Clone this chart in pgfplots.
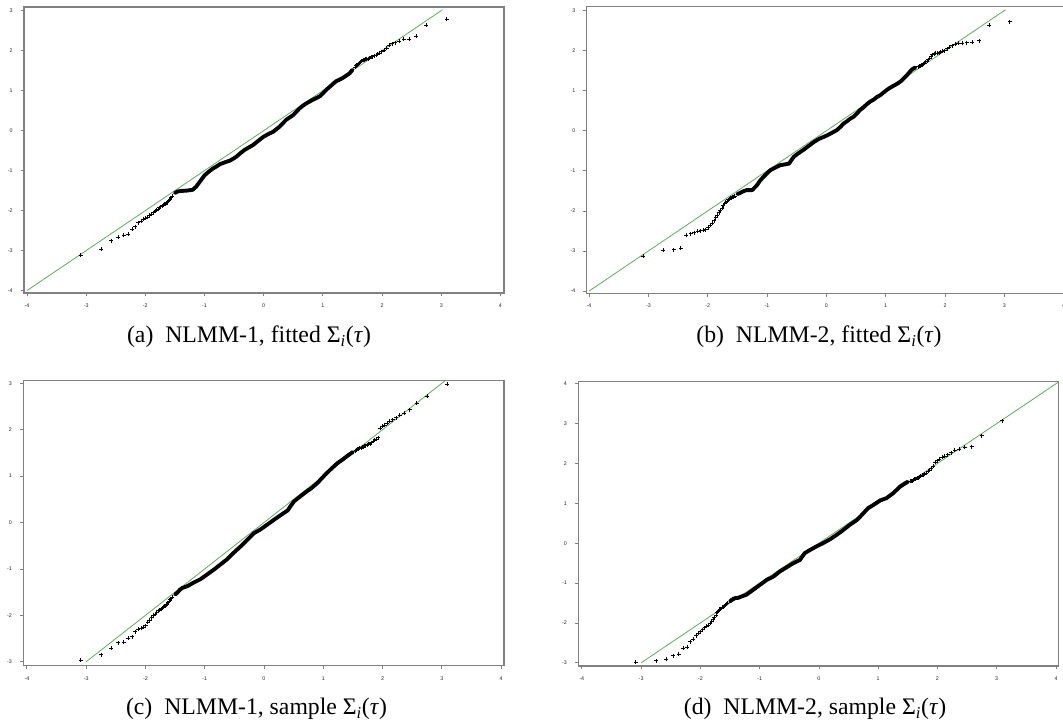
\documentclass[border=0pt]{standalone}
\usepackage{pgfplots}
\pgfplotsset{compat=1.18}
\usepackage{fontspec}
\setmainfont{Liberation Serif}
\newfontfamily\tickfont{Liberation Sans}
\definecolor{qqgreen}{RGB}{95,170,95}
\definecolor{axgray}{RGB}{128,128,128}
\pgfplotsset{
  qqax/.style={
    scale only axis, anchor=south west,
    axis line style={axgray, line width=0.8pt},
    tick style={axgray, line width=0.6pt},
    tick align=outside, major tick length=2.5pt,
    xtick pos=bottom, ytick pos=left,
    xtick={-4,-3,-2,-1,0,1,2,3,4},
    tick label style={font=\tickfont\fontsize{4}{4}\selectfont, text=black!85},
    /pgf/number format/assume math mode=true,
    xticklabel style={yshift=-2.0pt},
    yticklabel style={xshift=-2.5pt},
  },
  tails/.style={only marks, mark=+, mark size=1.5pt, mark options={line width=0.5pt, black}},
  mid/.style={black, line width=2.9pt, line cap=round, line join=round, no marks},
  ref/.style={qqgreen, line width=0.6pt, no marks},
}
\begin{document}
\begin{tikzpicture}
% (a)
\begin{axis}[qqax, at={(18pt,323.25pt)}, width=360pt, height=214.5pt,
  xmin=-4.05, xmax=4.06, ymin=-4.06, ymax=3.09, ytick={-4,-3,-2,-1,0,1,2,3}]
\addplot[ref] coordinates {(-4,-4) (3.02,3.02)};
\addplot[mid] coordinates {(-1.50,-1.56) (-1.45,-1.52) (-1.40,-1.51) (-1.30,-1.50) (-1.20,-1.48) (-1.14,-1.40) (-1.08,-1.28) (-1.00,-1.12) (-0.93,-1.03) (-0.86,-0.95) (-0.80,-0.90) (-0.74,-0.84) (-0.65,-0.79) (-0.57,-0.75) (-0.50,-0.69) (-0.46,-0.65) (-0.39,-0.56) (-0.32,-0.48) (-0.25,-0.42) (-0.18,-0.36) (-0.12,-0.29) (-0.07,-0.23) (0.00,-0.15) (0.05,-0.11) (0.10,-0.07) (0.16,-0.03) (0.21,0.03) (0.27,0.10) (0.32,0.18) (0.38,0.27) (0.44,0.33) (0.50,0.39) (0.55,0.47) (0.61,0.56) (0.67,0.63) (0.72,0.68) (0.78,0.73) (0.83,0.77) (0.90,0.82) (0.95,0.86) (1.00,0.93) (1.05,1.01) (1.12,1.10) (1.18,1.18) (1.23,1.24) (1.29,1.28) (1.34,1.32) (1.40,1.38) (1.45,1.43) (1.50,1.52)};
\addplot[tails] coordinates {(-3.090,-3.11) (-2.748,-2.96) (-2.576,-2.75) (-2.457,-2.67) (-2.366,-2.62) (-2.290,-2.59) (-2.226,-2.47) (-2.170,-2.40) (-2.120,-2.30) (-2.075,-2.26) (-2.034,-2.22) (-1.995,-2.19) (-1.960,-2.16) (-1.927,-2.12) (-1.896,-2.09) (-1.866,-2.05) (-1.838,-2.02) (-1.812,-1.99) (-1.787,-1.96) (-1.762,-1.93) (-1.739,-1.90) (-1.717,-1.88) (-1.695,-1.86) (-1.675,-1.84) (-1.655,-1.83) (-1.635,-1.80) (-1.616,-1.77) (-1.598,-1.74) (-1.580,-1.71) (-1.563,-1.68) (-1.546,-1.64)
(1.546,1.59) (1.563,1.62) (1.580,1.65) (1.598,1.67) (1.616,1.69) (1.635,1.71) (1.655,1.73) (1.675,1.76) (1.695,1.77) (1.717,1.78) (1.739,1.79) (1.762,1.80) (1.787,1.81) (1.812,1.83) (1.838,1.85) (1.866,1.87) (1.896,1.89) (1.927,1.91) (1.960,1.94) (1.995,1.97) (2.034,2.01) (2.075,2.06) (2.120,2.13) (2.170,2.17) (2.226,2.20) (2.290,2.23) (2.366,2.28) (2.457,2.28) (2.576,2.36) (2.748,2.63) (3.090,2.79)};
\end{axis}
% (b)
\begin{axis}[qqax, at={(440pt,322.9pt)}, width=360pt, height=214.9pt,
  xmin=-4.04, xmax=4.05, ymin=-4.06, ymax=3.09, ytick={-4,-3,-2,-1,0,1,2,3}]
\addplot[ref] coordinates {(-4,-4) (3.02,3.02)};
\addplot[mid] coordinates {(-1.50,-1.58) (-1.45,-1.55) (-1.40,-1.51) (-1.34,-1.48) (-1.25,-1.48) (-1.17,-1.36) (-1.12,-1.25) (-1.06,-1.15) (-1.00,-1.06) (-0.94,-0.98) (-0.86,-0.92) (-0.78,-0.86) (-0.70,-0.84) (-0.63,-0.82) (-0.55,-0.65) (-0.47,-0.56) (-0.38,-0.47) (-0.30,-0.38) (-0.21,-0.28) (-0.12,-0.20) (-0.04,-0.15) (0.02,-0.11) (0.07,-0.07) (0.12,-0.03) (0.18,0.02) (0.24,0.10) (0.29,0.18) (0.35,0.24) (0.40,0.30) (0.46,0.35) (0.52,0.44) (0.57,0.52) (0.63,0.59) (0.68,0.66) (0.74,0.73) (0.80,0.78) (0.85,0.84) (0.91,0.89) (0.96,0.95) (1.02,1.02) (1.07,1.07) (1.13,1.12) (1.19,1.17) (1.25,1.23) (1.30,1.30) (1.36,1.39) (1.40,1.46) (1.44,1.53) (1.50,1.58)};
\addplot[tails] coordinates {(-3.090,-3.13) (-2.748,-2.98) (-2.576,-2.97) (-2.457,-2.93) (-2.366,-2.60) (-2.290,-2.57) (-2.226,-2.54) (-2.170,-2.51) (-2.120,-2.49) (-2.075,-2.48) (-2.034,-2.47) (-1.995,-2.42) (-1.960,-2.36) (-1.927,-2.30) (-1.896,-2.24) (-1.866,-2.17) (-1.838,-2.10) (-1.812,-2.04) (-1.787,-1.98) (-1.762,-1.93) (-1.739,-1.87) (-1.717,-1.82) (-1.695,-1.78) (-1.675,-1.75) (-1.655,-1.72) (-1.635,-1.70) (-1.616,-1.68) (-1.598,-1.67) (-1.580,-1.66) (-1.563,-1.65) (-1.546,-1.63)
(1.546,1.60) (1.563,1.61) (1.580,1.62) (1.598,1.64) (1.616,1.65) (1.635,1.67) (1.655,1.69) (1.675,1.72) (1.695,1.74) (1.717,1.77) (1.739,1.81) (1.762,1.86) (1.787,1.90) (1.812,1.92) (1.838,1.93) (1.866,1.94) (1.896,1.95) (1.927,1.96) (1.960,1.98) (1.995,2.00) (2.034,2.05) (2.075,2.08) (2.120,2.12) (2.170,2.16) (2.226,2.18) (2.290,2.19) (2.366,2.20) (2.457,2.21) (2.576,2.25) (2.748,2.63) (3.090,2.72)};
\end{axis}
% (c)
\begin{axis}[qqax, at={(17.5pt,43.7pt)}, width=360.5pt, height=213.75pt,
  xmin=-4.06, xmax=4.05, ymin=-3.086, ymax=3.056, ytick={-3,-2,-1,0,1,2,3}]
\addplot[ref] coordinates {(-3.0,-3.0) (3.05,3.05)};
\addplot[mid] coordinates {(-1.50,-1.55) (-1.46,-1.51) (-1.42,-1.45) (-1.38,-1.41) (-1.29,-1.37) (-1.18,-1.29) (-1.07,-1.22) (-0.96,-1.12) (-0.84,-1.01) (-0.73,-0.90) (-0.62,-0.79) (-0.51,-0.65) (-0.39,-0.51) (-0.28,-0.37) (-0.17,-0.23) (-0.06,-0.15) (0.06,-0.04) (0.17,0.06) (0.26,0.14) (0.34,0.21) (0.40,0.26) (0.44,0.34) (0.51,0.46) (0.62,0.57) (0.71,0.66) (0.79,0.73) (0.90,0.85) (1.01,1.00) (1.12,1.14) (1.24,1.28) (1.33,1.36) (1.41,1.44) (1.50,1.52)};
\addplot[tails] coordinates {(-3.090,-2.97) (-2.748,-2.85) (-2.576,-2.71) (-2.457,-2.59) (-2.366,-2.58) (-2.290,-2.49) (-2.226,-2.46) (-2.170,-2.35) (-2.120,-2.30) (-2.075,-2.28) (-2.034,-2.25) (-1.995,-2.22) (-1.960,-2.14) (-1.927,-2.10) (-1.896,-2.05) (-1.866,-2.00) (-1.838,-1.97) (-1.812,-1.93) (-1.787,-1.90) (-1.762,-1.89) (-1.739,-1.87) (-1.717,-1.85) (-1.695,-1.82) (-1.675,-1.80) (-1.655,-1.78) (-1.635,-1.76) (-1.616,-1.73) (-1.598,-1.70) (-1.580,-1.66) (-1.563,-1.64) (-1.546,-1.61)
(1.546,1.55) (1.563,1.57) (1.580,1.58) (1.598,1.59) (1.616,1.60) (1.635,1.61) (1.655,1.62) (1.675,1.63) (1.695,1.65) (1.717,1.66) (1.739,1.68) (1.762,1.69) (1.787,1.70) (1.812,1.72) (1.838,1.75) (1.866,1.78) (1.896,1.80) (1.927,1.83) (1.960,2.04) (1.995,2.07) (2.034,2.10) (2.075,2.14) (2.120,2.18) (2.170,2.22) (2.226,2.26) (2.290,2.31) (2.366,2.36) (2.457,2.43) (2.576,2.57) (2.748,2.73) (3.090,2.985)};
\end{axis}
% (d)
\begin{axis}[qqax, at={(433.7pt,43.5pt)}, width=360.5pt, height=213.5pt,
  xmin=-4.06, xmax=4.05, ymin=-3.08, ymax=4.06, ytick={-3,-2,-1,0,1,2,3,4}]
\addplot[ref] coordinates {(-3.0,-3.0) (4.05,4.05)};
\addplot[mid] coordinates {(-1.50,-1.46) (-1.47,-1.42) (-1.42,-1.38) (-1.36,-1.37) (-1.33,-1.35) (-1.22,-1.29) (-1.11,-1.17) (-0.99,-1.04) (-0.88,-0.92) (-0.77,-0.84) (-0.66,-0.71) (-0.55,-0.61) (-0.43,-0.50) (-0.32,-0.42) (-0.24,-0.25) (-0.15,-0.17) (-0.04,-0.08) (0.07,0.00) (0.19,0.10) (0.30,0.21) (0.41,0.33) (0.52,0.46) (0.64,0.58) (0.75,0.75) (0.83,0.88) (0.92,0.96) (1.03,1.07) (1.14,1.13) (1.25,1.25) (1.37,1.42) (1.45,1.50) (1.50,1.54)};
\addplot[tails] coordinates {(-3.090,-2.98) (-2.748,-2.95) (-2.576,-2.91) (-2.457,-2.82) (-2.366,-2.78) (-2.290,-2.63) (-2.226,-2.61) (-2.170,-2.47) (-2.120,-2.40) (-2.075,-2.32) (-2.034,-2.26) (-1.995,-2.22) (-1.960,-2.17) (-1.927,-2.12) (-1.896,-2.08) (-1.866,-2.05) (-1.838,-2.00) (-1.812,-1.95) (-1.787,-1.90) (-1.762,-1.85) (-1.739,-1.80) (-1.717,-1.73) (-1.695,-1.70) (-1.675,-1.66) (-1.655,-1.64) (-1.635,-1.61) (-1.616,-1.60) (-1.598,-1.58) (-1.580,-1.56) (-1.563,-1.53) (-1.546,-1.51)
(1.546,1.55) (1.563,1.56) (1.580,1.57) (1.598,1.58) (1.616,1.60) (1.635,1.61) (1.655,1.63) (1.675,1.64) (1.695,1.66) (1.717,1.68) (1.739,1.70) (1.762,1.71) (1.787,1.73) (1.812,1.76) (1.838,1.80) (1.866,1.84) (1.896,1.89) (1.927,1.93) (1.960,2.04) (1.995,2.07) (2.034,2.11) (2.075,2.15) (2.120,2.19) (2.170,2.22) (2.226,2.27) (2.290,2.33) (2.366,2.36) (2.457,2.41) (2.576,2.42) (2.748,2.70) (3.090,3.07)};
\end{axis}
% captions
\node[anchor=base, font=\fontsize{17.8}{20}\selectfont] at (186.75pt,285.75pt) {(a)\enspace NLMM-1, fitted Σ\textsubscript{\itshape i}(\textit{τ})};
\node[anchor=base, font=\fontsize{17.8}{20}\selectfont] at (614.25pt,285.75pt) {(b)\enspace NLMM-2, fitted Σ\textsubscript{\itshape i}(\textit{τ})};
\node[anchor=base, font=\fontsize{17.8}{20}\selectfont] at (192.4pt,6.75pt) {(c)\enspace NLMM-1, sample Σ\textsubscript{\itshape i}(\textit{τ})};
\node[anchor=base, font=\fontsize{17.8}{20}\selectfont] at (611.25pt,6.75pt) {(d)\enspace NLMM-2, sample Σ\textsubscript{\itshape i}(\textit{τ})};
\pgfresetboundingbox
\path[use as bounding box] (0,0) rectangle (797.25pt,543pt);
\end{tikzpicture}
\end{document}
